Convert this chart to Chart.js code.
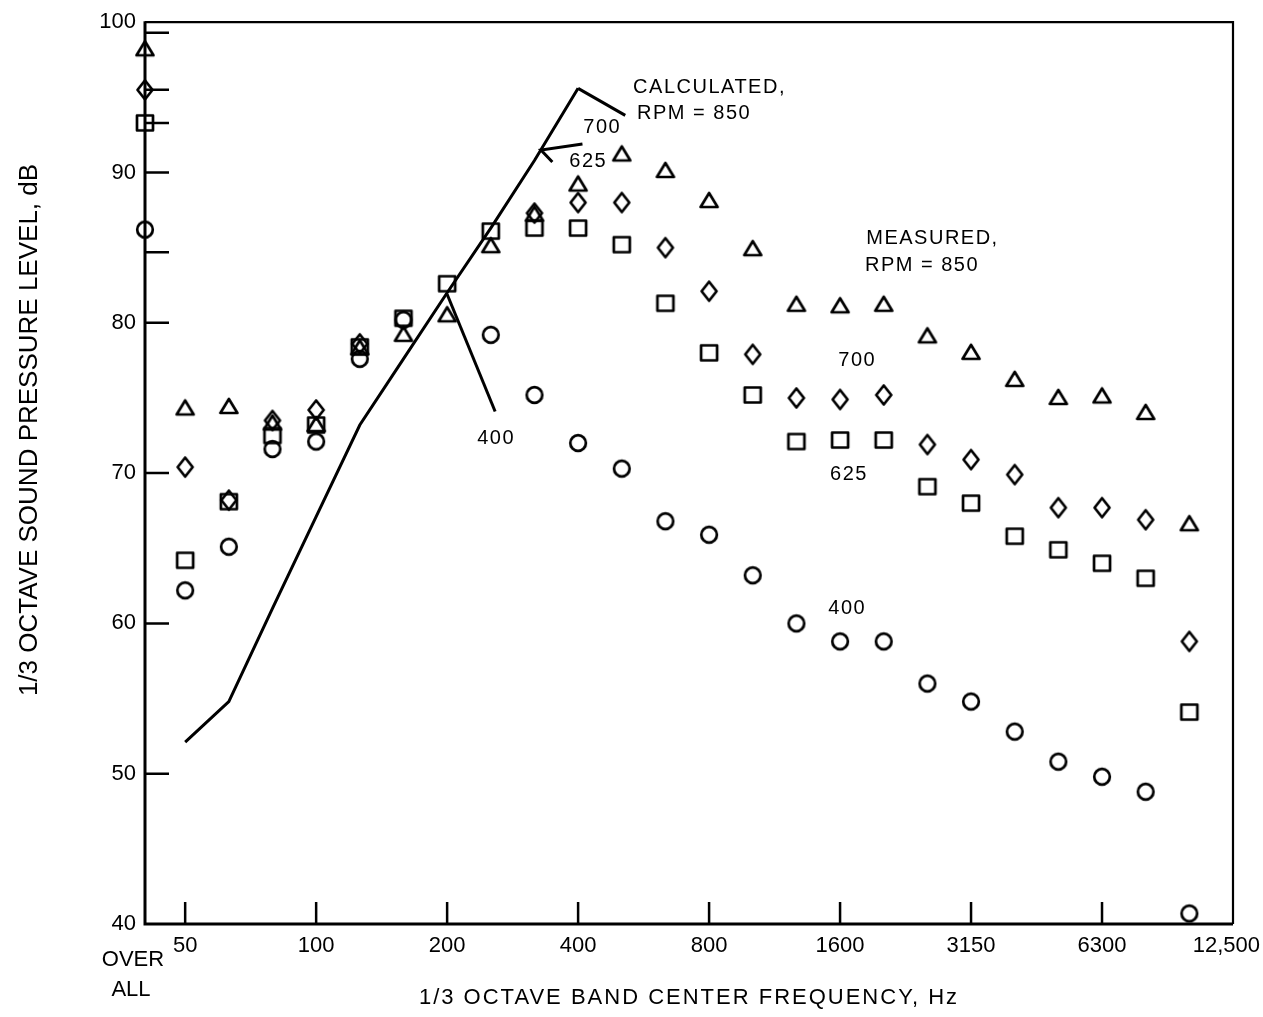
<!DOCTYPE html>
<html>
<head>
<meta charset="utf-8">
<title>1/3 Octave Sound Pressure Level</title>
<script src="https://cdn.jsdelivr.net/npm/chart.js@4.4.0/dist/chart.umd.min.js"></script>
<style>
  html, body { margin: 0; padding: 0; background: #fff; }
  #wrap { position: relative; width: 1263px; height: 1017px; }
</style>
</head>
<body>
<div id="wrap"><canvas id="spl-chart"></canvas></div>
<script>
// 1/3 octave band centres, Hz (band index 0 = 50 Hz)
const bands = ['50', '63', '80', '100', '125', '160', '200', '250', '315', '400', '500', '630',
               '800', '1000', '1250', '1600', '2000', '2500', '3150', '4000', '5000', '6300', '8000', '10000'];
// labelled ticks on the frequency axis (band index -> text)
const xTickIndex = [0, 3, 6, 9, 12, 15, 18, 21, 24];
const xTickLabels = ['50', '100', '200', '400', '800', '1600', '3150', '6300', '12,500'];
const yTickValues = [40, 50, 60, 70, 80, 90, 100];
const yExtraTicks = [99.3, 95.5, 93.3, 84.7];

// measured levels, dB (null = not visible on the plot)
const rpm850 = [74.3, 74.4, 73.3, 73.2, 78.3, 79.2, 80.5, 85.1, 87.2, 89.2, 91.2, 90.1,
                88.1, 84.9, 81.2, 81.1, 81.2, 79.1, 78.0, 76.2, 75.0, 75.1, 74.0, 66.6];
const rpm700 = [70.4, 68.2, 73.5, 74.2, 78.6, null, null, null, 87.3, 88.0, 88.0, 85.0,
                82.1, 77.9, 75.0, 74.9, 75.2, 71.9, 70.9, 69.9, 67.7, 67.7, 66.9, 58.8];
const rpm625 = [64.2, 68.1, 72.5, 73.2, 78.4, 80.3, 82.6, 86.1, 86.3, 86.3, 85.2, 81.3,
                78.0, 75.2, 72.1, 72.2, 72.2, 69.1, 68.0, 65.8, 64.9, 64.0, 63.0, 54.1];
const rpm400 = [62.2, 65.1, 71.6, 72.1, 77.6, 80.2, null, 79.2, 75.2, 72.0, 70.3, 66.8,
                65.9, 63.2, 60.0, 58.8, 58.8, 56.0, 54.8, 52.8, 50.8, 49.8, 48.8, 40.7];
// overall levels: 850, 700, 625, 400 rpm
const overall = [98.2, 95.5, 93.3, 86.2];
// calculated, rpm 850 (50 .. 400 Hz)
const calc850 = [52.1, 54.8, 61.0, 67.1, 73.2, 77.6, 82.0, 86.3, 90.8, 95.6];

// axis range in band index units, left edge = OVERALL column
const xMin = -0.92;
const xMax = 24;

// text notes, placed in data units
const notes = [
    { text: 'CALCULATED,', x: 10.26, y: 95.67 },
    { text: 'RPM = 850', x: 10.35, y: 93.95 },
    { text: '700', x: 9.12, y: 93.02 },
    { text: '625', x: 8.80, y: 90.76 },
    { text: '400', x: 6.69, y: 72.32 },
    { text: 'MEASURED,', x: 15.60, y: 85.59 },
    { text: 'RPM = 850', x: 15.57, y: 83.80 },
    { text: '700', x: 14.96, y: 77.49 },
    { text: '625', x: 14.77, y: 69.93 },
    { text: '400', x: 14.73, y: 60.97 }
];
// leader lines, data units
const leaders = [
    [[9, 95.6], [10.08, 93.8]],
    [[9.1, 91.9], [8.15, 91.5], [8.41, 90.7]],
    [[6.0, 81.9], [7.1, 74.1]]
];

const FONT = "'Liberation Sans', Arial, Helvetica, sans-serif";

// hollow markers drawn once, used as pointStyle images
function makeMarker(shape) {
    const c = document.createElement('canvas');
    c.width = 26;
    c.height = 26;
    const ctx = c.getContext('2d');
    const cx = 13, cy = 13;
    ctx.strokeStyle = '#000';
    ctx.lineWidth = 2.7;
    ctx.lineJoin = 'round';
    ctx.beginPath();
    if (shape === 'triangle') {
        ctx.moveTo(cx, cy - 8);
        ctx.lineTo(cx + 8.5, cy + 6);
        ctx.lineTo(cx - 8.5, cy + 6);
        ctx.closePath();
    } else if (shape === 'diamond') {
        ctx.moveTo(cx, cy - 9.5);
        ctx.lineTo(cx + 7.5, cy);
        ctx.lineTo(cx, cy + 9.5);
        ctx.lineTo(cx - 7.5, cy);
        ctx.closePath();
    } else if (shape === 'square') {
        ctx.rect(cx - 8, cy - 7.5, 16, 15);
    } else {
        ctx.arc(cx, cy, 7.8, 0, Math.PI * 2);
    }
    ctx.stroke();
    return c;
}

function toPoints(values, overallValue) {
    const pts = [{ x: xMin, y: overallValue }];
    values.forEach((v, i) => {
        if (v !== null) pts.push({ x: i, y: v });
    });
    return pts;
}

function measured(label, values, overallValue, shape) {
    return {
        label: label,
        data: toPoints(values, overallValue),
        showLine: false,
        pointStyle: makeMarker(shape),
        pointRadius: 10,
        clip: false
    };
}

// frame, inward ticks, labels and notes
const paperPlugin = {
    id: 'paper',
    afterDraw(chart) {
        const { ctx, chartArea: a, scales: { x, y } } = chart;
        ctx.save();
        ctx.strokeStyle = '#000';
        ctx.fillStyle = '#000';
        ctx.lineCap = 'butt';

        // frame
        ctx.lineWidth = 3;
        ctx.beginPath();
        ctx.moveTo(a.left, a.top - 1);
        ctx.lineTo(a.left, a.bottom);
        ctx.lineTo(a.right, a.bottom);
        ctx.stroke();
        ctx.lineWidth = 2.2;
        ctx.beginPath();
        ctx.moveTo(a.left, a.top);
        ctx.lineTo(a.right, a.top);
        ctx.lineTo(a.right, a.bottom);
        ctx.stroke();

        // inward ticks
        ctx.lineWidth = 2.5;
        ctx.beginPath();
        yTickValues.concat(yExtraTicks).forEach(v => {
            if (v <= 40 || v >= 100) return;
            const py = y.getPixelForValue(v);
            ctx.moveTo(a.left, py);
            ctx.lineTo(a.left + 24, py);
        });
        xTickIndex.forEach(i => {
            if (i >= xMax) return;
            const px = x.getPixelForValue(i);
            ctx.moveTo(px, a.bottom);
            ctx.lineTo(px, a.bottom - 22);
        });
        ctx.stroke();

        // frequency tick labels
        ctx.font = '22px ' + FONT;
        ctx.textAlign = 'center';
        ctx.textBaseline = 'middle';
        xTickIndex.forEach((i, k) => {
            const w = ctx.measureText(xTickLabels[k]).width;
            let px = x.getPixelForValue(i);
            px = Math.min(px, chart.width - w / 2 - 3);
            ctx.fillText(xTickLabels[k], px, a.bottom + 22);
        });
        ctx.fillText('OVER', a.left - 12, a.bottom + 36);
        ctx.fillText('ALL', a.left - 14, a.bottom + 66);

        // leader lines
        ctx.lineWidth = 3;
        leaders.forEach(seg => {
            ctx.beginPath();
            seg.forEach((p, k) => {
                const px = x.getPixelForValue(p[0]);
                const py = y.getPixelForValue(p[1]);
                if (k === 0) ctx.moveTo(px, py); else ctx.lineTo(px, py);
            });
            ctx.stroke();
        });

        // notes
        ctx.font = '20px ' + FONT;
        ctx.textAlign = 'left';
        ctx.letterSpacing = '1.5px';
        notes.forEach(n => {
            ctx.fillText(n.text, x.getPixelForValue(n.x), y.getPixelForValue(n.y));
        });

        // axis titles
        ctx.font = '22px ' + FONT;
        ctx.letterSpacing = '2px';
        ctx.textAlign = 'center';
        ctx.fillText('1/3 OCTAVE BAND CENTER FREQUENCY, Hz', (a.left + a.right) / 2, a.bottom + 74);
        ctx.translate(30, 430);
        ctx.rotate(-Math.PI / 2);
        ctx.font = '26px ' + FONT;
        ctx.letterSpacing = '0px';
        ctx.fillText('1/3 OCTAVE SOUND PRESSURE LEVEL, dB', 0, 0);
        ctx.restore();
    }
};

const canvas = document.getElementById('spl-chart');
new Chart(canvas, {
    type: 'scatter',
    data: {
        datasets: [
            {
                label: 'Calculated, RPM = 850',
                data: calc850.map((v, i) => ({ x: i, y: v })),
                showLine: true,
                borderColor: '#000',
                borderWidth: 3,
                pointRadius: 0,
                tension: 0
            },
            measured('Measured 850', rpm850, overall[0], 'triangle'),
            measured('Measured 700', rpm700, overall[1], 'diamond'),
            measured('Measured 625', rpm625, overall[2], 'square'),
            measured('Measured 400', rpm400, overall[3], 'circle')
        ]
    },
    options: {
        responsive: true,
        maintainAspectRatio: false,
        animation: false,
        layout: { padding: { left: 0, right: 30, top: 20, bottom: 0 } },
        plugins: {
            legend: { display: false },
            tooltip: { enabled: false }
        },
        scales: {
            x: {
                type: 'linear',
                min: xMin,
                max: xMax,
                grid: { display: false },
                border: { display: false },
                ticks: { display: false },
                afterFit: s => { s.height = 93; }
            },
            y: {
                type: 'linear',
                min: 40,
                max: 100,
                grid: { display: false, drawTicks: false },
                border: { display: false },
                afterBuildTicks: s => { s.ticks = yTickValues.map(v => ({ value: v })); },
                ticks: {
                    color: '#000',
                    padding: 9,
                    font: { family: FONT, size: 22 }
                },
                afterFit: s => { s.width = 145; }
            }
        }
    },
    plugins: [paperPlugin]
});
</script>
</body>
</html>
